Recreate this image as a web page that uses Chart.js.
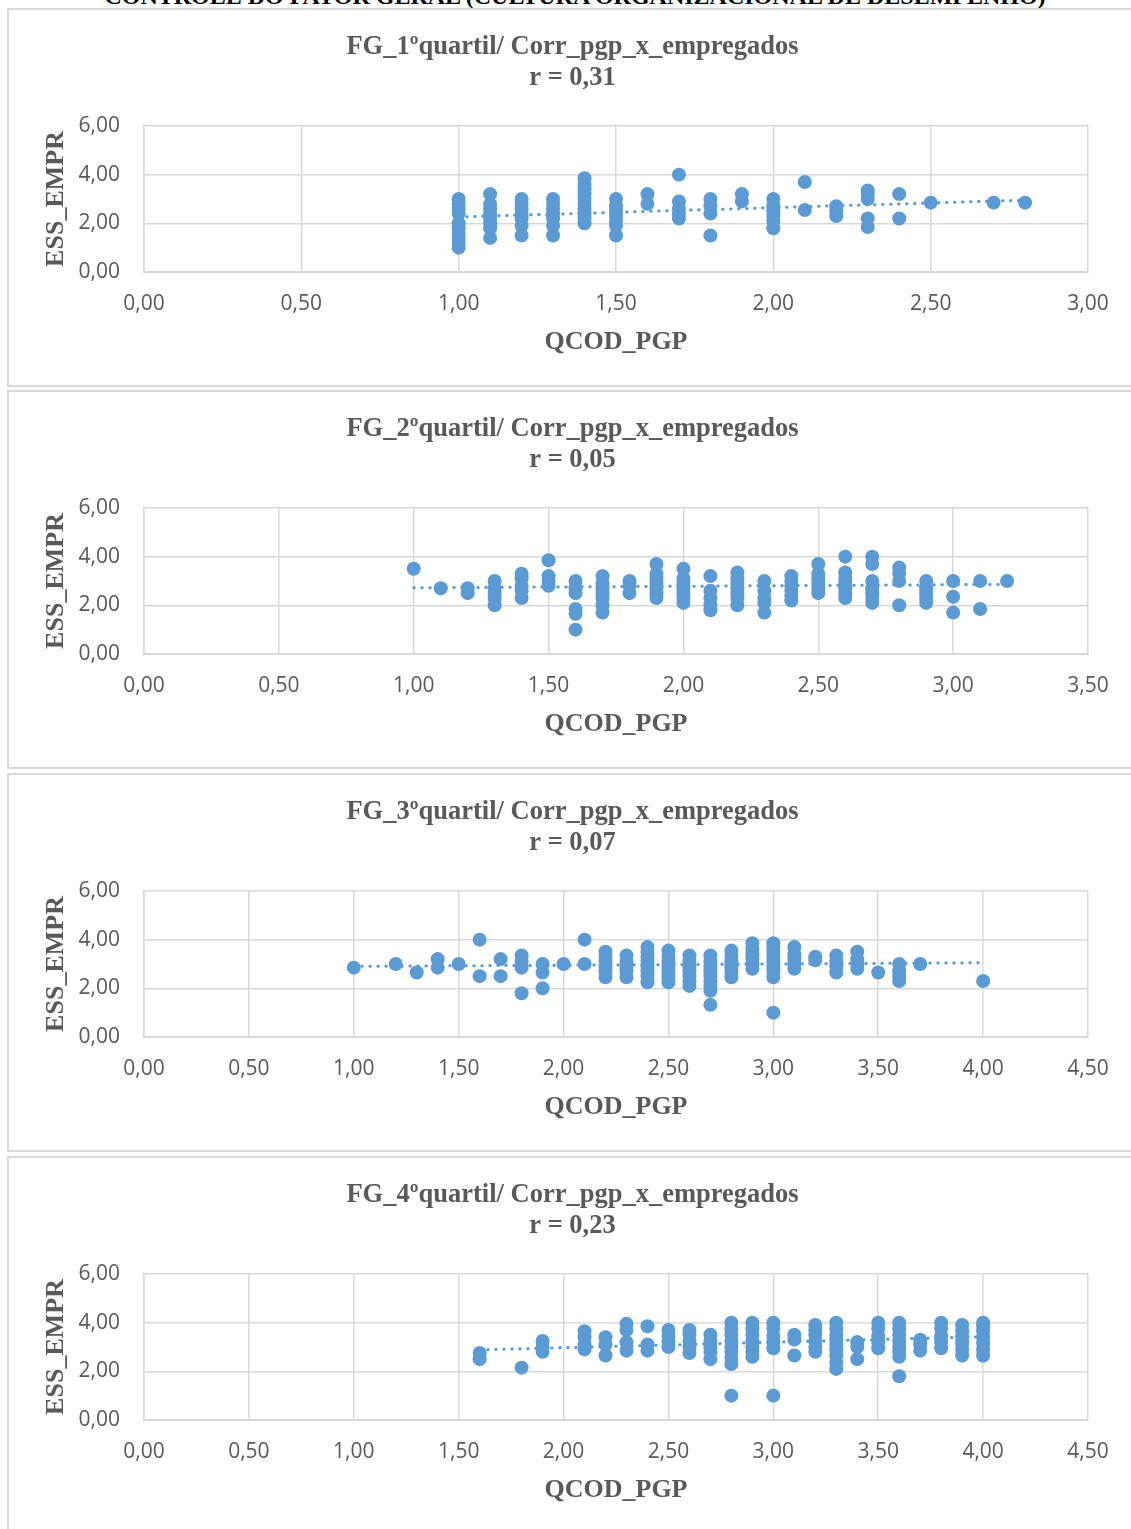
<!DOCTYPE html>
<html>
<head>
<meta charset="utf-8"/>
<title>FG quartis - Corr_pgp_x_empregados</title>
<script src="https://cdn.jsdelivr.net/npm/chart.js@4.4.1/dist/chart.umd.min.js"></script>
<style>
    body { margin: 0; background: #fff; overflow: hidden; width: 1131px; height: 1529px; position: relative; }
    #topTitle { position: absolute; left: 0; width: 1150px; top: -16px; text-align: center;
        font: bold 24px "Liberation Serif", "Times New Roman", serif; line-height: 24px; color: #000; white-space: nowrap; }
    .panel { position: absolute; left: 7px; width: 1131px; height: 379px; border: 2px solid #d9d9d9; box-sizing: border-box; background: #fff; }
    .panel canvas { position: absolute; left: 0; top: 1px; }
</style>
</head>
<body>

<div id="topTitle">CONTROLE DO FATOR GERAL (CULTURA ORGANIZACIONAL DE DESEMPENHO)</div>

<div class="panel" style="top:8px"><canvas id="c1" width="1127" height="374"></canvas></div>
<div class="panel" style="top:390px"><canvas id="c2" width="1127" height="374"></canvas></div>
<div class="panel" style="top:773px"><canvas id="c3" width="1127" height="374"></canvas></div>
<div class="panel" style="top:1156px"><canvas id="c4" width="1127" height="374"></canvas></div>

<script>
// ---- data: x columns (QCOD_PGP) and the ESS_EMPR values in each column ----
var q1Cols = [1.0, 1.1, 1.2, 1.3, 1.4, 1.5, 1.6, 1.7, 1.8, 1.9, 2.0, 2.1, 2.2, 2.3, 2.4, 2.5, 2.7, 2.8];
var q1Vals = [
    [1.0, 1.2, 1.4, 1.6, 1.8, 2.0, 2.4, 2.6, 2.8, 3.0],
    [1.4, 1.8, 2.0, 2.2, 2.4, 2.6, 2.8, 3.2],
    [1.5, 1.9, 2.2, 2.4, 2.6, 2.8, 3.0],
    [1.5, 1.9, 2.2, 2.4, 2.6, 2.8, 3.0],
    [2.0, 2.2, 2.4, 2.6, 2.8, 3.0, 3.2, 3.4, 3.6, 3.85],
    [1.5, 1.9, 2.1, 2.3, 2.5, 2.7, 3.0],
    [2.8, 3.2],
    [2.2, 2.4, 2.6, 2.9, 4.0],
    [1.5, 2.4, 2.7, 3.0],
    [2.9, 3.2],
    [1.8, 2.1, 2.3, 2.5, 2.7, 3.0],
    [2.55, 3.7],
    [2.3, 2.5, 2.7],
    [1.85, 2.2, 3.0, 3.2, 3.35],
    [2.2, 3.2],
    [2.85],
    [2.85],
    [2.85]
];
var q1Trend = [[1.0, 2.26], [2.8, 2.95]];

var q2Cols = [1.0, 1.1, 1.2, 1.3, 1.4, 1.5, 1.6, 1.7, 1.8, 1.9, 2.0, 2.1, 2.2, 2.3, 2.4, 2.5, 2.6, 2.7, 2.8, 2.9, 3.0, 3.1, 3.2];
var q2Vals = [
    [3.5],
    [2.7],
    [2.5, 2.7],
    [2.0, 2.3, 2.5, 2.7, 3.0],
    [2.3, 2.6, 2.8, 3.1, 3.3],
    [2.8, 3.0, 3.2, 3.85],
    [1.0, 1.65, 1.85, 2.5, 2.7, 3.0],
    [1.7, 2.0, 2.3, 2.5, 2.7, 2.9, 3.2],
    [2.5, 2.8, 3.0],
    [2.3, 2.5, 2.7, 2.9, 3.1, 3.3, 3.7],
    [2.1, 2.3, 2.5, 2.7, 2.9, 3.1, 3.5],
    [1.8, 2.0, 2.3, 2.6, 3.2],
    [2.0, 2.3, 2.5, 2.7, 2.9, 3.1, 3.35],
    [1.7, 2.1, 2.3, 2.6, 3.0],
    [2.2, 2.4, 2.6, 2.8, 3.0, 3.2],
    [2.5, 2.7, 2.9, 3.1, 3.3, 3.7],
    [2.3, 2.5, 2.7, 2.9, 3.1, 3.35, 4.0],
    [2.1, 2.3, 2.5, 2.7, 3.0, 3.7, 4.0],
    [2.0, 3.0, 3.3, 3.55],
    [2.1, 2.3, 2.5, 2.7, 3.0],
    [1.7, 2.35, 3.0],
    [1.85, 3.0],
    [3.0]
];
var q2Trend = [[1.0, 2.72], [3.2, 2.86]];

var q3Cols = [1.0, 1.2, 1.3, 1.4, 1.5, 1.6, 1.7, 1.8, 1.9, 2.0, 2.1, 2.2, 2.3, 2.4, 2.5, 2.6, 2.7, 2.8, 2.9, 3.0, 3.1, 3.2, 3.3, 3.4, 3.5, 3.6, 3.7, 4.0];
var q3Vals = [
    [2.85],
    [3.0],
    [2.65],
    [2.85, 3.2],
    [3.0],
    [2.5, 4.0],
    [2.5, 3.2],
    [1.8, 2.85, 3.1, 3.35],
    [2.0, 2.65, 3.0],
    [3.0],
    [3.0, 4.0],
    [2.45, 2.7, 2.9, 3.1, 3.3, 3.5],
    [2.45, 2.7, 2.9, 3.1, 3.35],
    [2.25, 2.5, 2.7, 2.9, 3.1, 3.3, 3.5, 3.7],
    [2.25, 2.5, 2.7, 2.9, 3.1, 3.3, 3.55],
    [2.1, 2.3, 2.5, 2.7, 2.9, 3.1, 3.35],
    [1.32, 1.9, 2.1, 2.3, 2.5, 2.7, 2.9, 3.1, 3.35],
    [2.45, 2.7, 2.9, 3.1, 3.3, 3.55],
    [2.8, 3.0, 3.2, 3.4, 3.6, 3.85],
    [1.0, 2.45, 2.7, 2.9, 3.1, 3.3, 3.5, 3.7, 3.85],
    [2.8, 3.0, 3.2, 3.4, 3.7],
    [3.15, 3.3],
    [2.65, 2.9, 3.1, 3.35],
    [2.8, 3.0, 3.2, 3.5],
    [2.65],
    [2.3, 2.5, 2.7, 3.0],
    [3.0],
    [2.3]
];
var q3Trend = [[1.0, 2.9], [4.0, 3.05]];

var q4Cols = [1.6, 1.8, 1.9, 2.1, 2.2, 2.3, 2.4, 2.5, 2.6, 2.7, 2.8, 2.9, 3.0, 3.1, 3.2, 3.3, 3.4, 3.5, 3.6, 3.7, 3.8, 3.9, 4.0];
var q4Vals = [
    [2.5, 2.75],
    [2.15],
    [2.8, 3.0, 3.25],
    [2.9, 3.1, 3.4, 3.65],
    [2.65, 3.1, 3.4],
    [2.85, 3.2, 3.7, 3.95],
    [2.85, 3.1, 3.85],
    [3.0, 3.2, 3.45, 3.7],
    [2.75, 3.0, 3.25, 3.5, 3.7],
    [2.5, 2.8, 3.0, 3.25, 3.5],
    [1.0, 2.3, 2.55, 2.8, 3.0, 3.25, 3.5, 3.75, 4.0],
    [2.6, 2.8, 3.0, 3.25, 3.5, 3.75, 4.0],
    [1.0, 2.95, 3.2, 3.45, 3.75, 4.0],
    [2.65, 3.3, 3.5],
    [2.8, 3.0, 3.25, 3.5, 3.7, 3.9],
    [2.1, 2.35, 2.65, 2.9, 3.1, 3.3, 3.5, 3.75, 4.0],
    [2.5, 3.0, 3.2],
    [2.95, 3.2, 3.45, 3.75, 4.0],
    [1.8, 2.6, 2.8, 3.0, 3.25, 3.5, 3.75, 4.0],
    [2.85, 3.1, 3.3],
    [2.95, 3.2, 3.45, 3.75, 4.0],
    [2.65, 2.9, 3.15, 3.4, 3.65, 3.9],
    [2.65, 2.9, 3.15, 3.4, 3.65, 3.85, 4.0]
];
var q4Trend = [[1.6, 2.88], [4.0, 3.42]];

var titles = [
    ['FG_1ºquartil/ Corr_pgp_x_empregados', 'r = 0,31'],
    ['FG_2ºquartil/ Corr_pgp_x_empregados', 'r = 0,05'],
    ['FG_3ºquartil/ Corr_pgp_x_empregados', 'r = 0,07'],
    ['FG_4ºquartil/ Corr_pgp_x_empregados', 'r = 0,23']
];
var xMaxes = [3, 3.5, 4.5, 4.5];

var BLUE = '#5B9BD5';
var GRID = '#d9d9d9';
var TXT = '#595959';

Chart.defaults.font.family = '"Open Sans", "Liberation Sans", sans-serif';

function comma(v) {
    return Number(v).toFixed(2).replace('.', ',');
}

function makePanel(id, cols, vals, trend, xMax, title) {
    var pts = [];
    for (var i = 0; i < cols.length; i++) {
        for (var j = 0; j < vals[i].length; j++) {
            pts.push({x: cols[i], y: vals[i][j]});
        }
    }
    var tr = trend.map(function (p) { return {x: p[0], y: p[1]}; });

    new Chart(document.getElementById(id), {
        type: 'scatter',
        data: {
            datasets: [
                {
                    label: 'trend', type: 'line', data: tr,
                    borderColor: BLUE, borderWidth: 3, borderDash: [0.5, 7.5], borderCapStyle: 'round',
                    pointRadius: 0, fill: false
                },
                {
                    label: 'ESS_EMPR', data: pts,
                    backgroundColor: BLUE, borderColor: BLUE, borderWidth: 0, pointRadius: 7, pointHoverRadius: 7
                }
            ]
        },
        options: {
            responsive: false,
            animation: false,
            layout: {padding: 0},
            plugins: {
                legend: {display: false},
                tooltip: {enabled: false},
                title: {
                    display: true, text: title, color: TXT,
                    font: {family: '"Liberation Serif", "Times New Roman", serif', size: 26.5, weight: 'bold', lineHeight: 1.15},
                    padding: {top: 21, bottom: 33}
                }
            },
            scales: {
                x: {
                    type: 'linear', min: 0, max: xMax,
                    afterFit: function (s) { s.height = 113; },
                    ticks: {stepSize: 0.5, color: TXT, font: {size: 21}, padding: 19, callback: comma, maxRotation: 0},
                    grid: {color: GRID, lineWidth: 1.5, drawTicks: false},
                    border: {color: GRID, width: 2},
                    title: {
                        display: true, text: 'QCOD_PGP', color: TXT,
                        font: {family: '"Liberation Serif", "Times New Roman", serif', size: 26, weight: 'bold'},
                        padding: {top: 0, bottom: 27}
                    }
                },
                y: {
                    min: 0, max: 6,
                    afterFit: function (s) { s.width = 135; },
                    ticks: {stepSize: 2, color: TXT, font: {size: 21}, padding: 24, callback: comma},
                    grid: {color: GRID, lineWidth: 1.5, drawTicks: false},
                    border: {color: GRID, width: 1.5},
                    title: {
                        display: true, text: 'ESS_EMPR', color: TXT,
                        font: {family: '"Liberation Serif", "Times New Roman", serif', size: 26, weight: 'bold'},
                        padding: {top: 32, bottom: 0}
                    }
                },
                // empty right-hand spacer so the title stays centred on the whole panel
                spacer: {
                    type: 'linear', position: 'right', display: true,
                    afterFit: function (s) { s.width = 48; },
                    ticks: {display: false},
                    grid: {display: false, drawTicks: false},
                    border: {display: false}
                }
            }
        }
    });
}

makePanel('c1', q1Cols, q1Vals, q1Trend, xMaxes[0], titles[0]);
makePanel('c2', q2Cols, q2Vals, q2Trend, xMaxes[1], titles[1]);
makePanel('c3', q3Cols, q3Vals, q3Trend, xMaxes[2], titles[2]);
makePanel('c4', q4Cols, q4Vals, q4Trend, xMaxes[3], titles[3]);
</script>
</body>
</html>
